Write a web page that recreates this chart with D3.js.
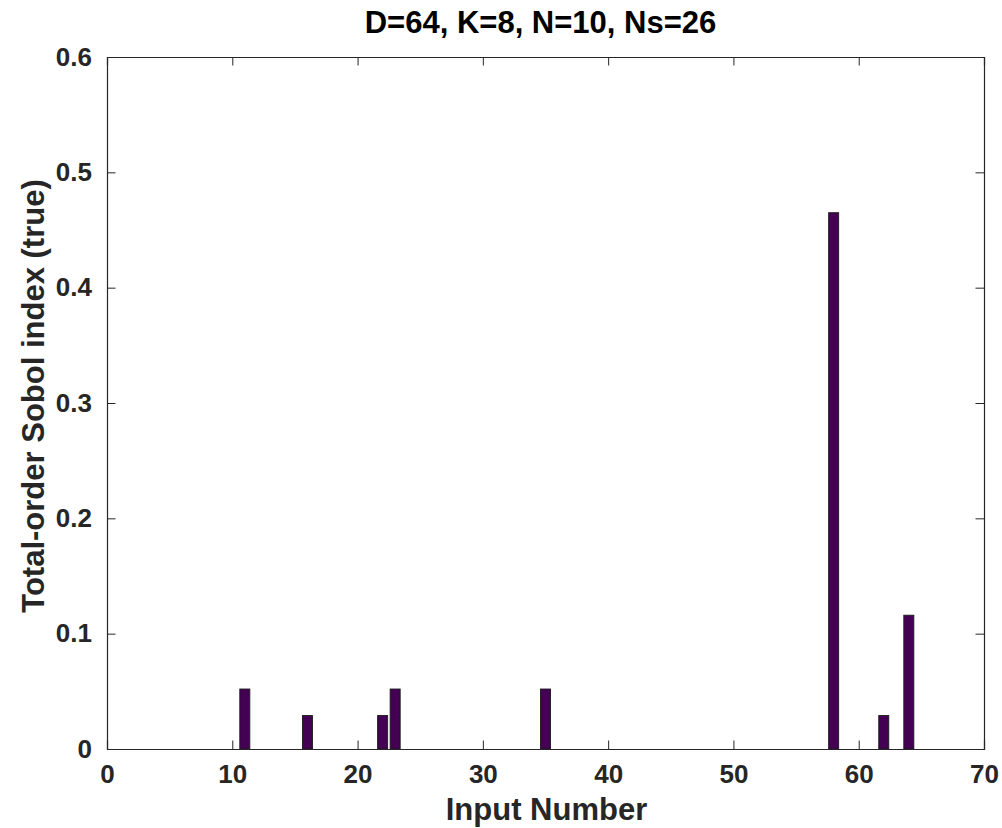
<!DOCTYPE html>
<html>
<head>
<meta charset="utf-8">
<script src="https://cdn.jsdelivr.net/npm/d3@7"></script>
<style>
  html, body { margin: 0; padding: 0; background: #fff; }
  svg { display: block; font-family: "Liberation Sans", Arial, Helvetica, sans-serif; }
</style>
</head>
<body>
<svg id="chart" width="1002" height="828"></svg>
<script>
// Total-order Sobol indices per input (inputs 1..64); non-listed inputs are zero
const inputNumbers = d3.range(1, 65);
const nonzeroInputs = [11, 16, 22, 23, 35, 58, 62, 64];
const nonzeroValues = [0.052, 0.029, 0.029, 0.052, 0.052, 0.465, 0.029, 0.116];
const xTicks = [0, 10, 20, 30, 40, 50, 60, 70];
const yTicks = [0, 0.1, 0.2, 0.3, 0.4, 0.5, 0.6];
const titleText = "D=64, K=8, N=10, Ns=26";
const xLabel = "Input Number";
const yLabel = "Total-order Sobol index (true)";

const values = inputNumbers.map(i => {
  const k = nonzeroInputs.indexOf(i);
  return k >= 0 ? nonzeroValues[k] : 0;
});

const svg = d3.select("#chart");
const W = 1002, H = 828;
const margin = { left: 107, right: W - 984, top: 57, bottom: H - 749 };
const x = d3.scaleLinear().domain([0, 70]).range([margin.left, W - margin.right]);
const y = d3.scaleLinear().domain([0, 0.6]).range([H - margin.bottom, margin.top]);

const axisColor = "#262626";
const tickLen = 8.5;
const barWidth = 0.8;

// Bars (zero-height bars still show their outline along the baseline)
svg.append("g").selectAll("rect")
  .data(inputNumbers)
  .join("rect")
  .attr("x", d => x(d - barWidth / 2))
  .attr("width", d => x(d + barWidth / 2) - x(d - barWidth / 2))
  .attr("y", (d, i) => y(values[i]))
  .attr("height", (d, i) => y(0) - y(values[i]))
  .attr("fill", "#440154")
  .attr("stroke", "#1a1a1a")
  .attr("stroke-width", 0.9);

// Axes with inward ticks on all four sides
const fontTick = 26;
const axBottom = svg.append("g").attr("transform", `translate(0,${y(0)})`)
  .call(d3.axisBottom(x).tickValues(xTicks).tickSize(-tickLen).tickPadding(16).tickFormat(d3.format("d")));
const axTop = svg.append("g").attr("transform", `translate(0,${y(0.6)})`)
  .call(d3.axisTop(x).tickValues(xTicks).tickSize(-tickLen).tickFormat(""));
const axLeft = svg.append("g").attr("transform", `translate(${x(0)},0)`)
  .call(d3.axisLeft(y).tickValues(yTicks).tickSize(-tickLen).tickPadding(15).tickFormat(d => d === 0 ? "0" : d3.format(".1f")(d)));
const axRight = svg.append("g").attr("transform", `translate(${x(70)},0)`)
  .call(d3.axisRight(y).tickValues(yTicks).tickSize(-tickLen).tickFormat(""));

[axBottom, axTop, axLeft, axRight].forEach(g => {
  g.select(".domain").attr("stroke", axisColor).attr("stroke-width", 1.2);
  g.selectAll(".tick line").attr("stroke", axisColor).attr("stroke-width", 1);
  g.selectAll(".tick text")
    .attr("fill", axisColor)
    .attr("font-size", fontTick)
    .attr("font-weight", "bold")
    .attr("font-family", "'Liberation Sans', Arial, sans-serif");
});
// Drop end ticks that would sit on the box corners
axBottom.selectAll(".tick line").filter(d => d === 0 || d === 70).remove();
axTop.selectAll(".tick line").filter(d => d === 0 || d === 70).remove();
axLeft.selectAll(".tick line").filter(d => d === 0 || d === 0.6).remove();
axRight.selectAll(".tick line").filter(d => d === 0 || d === 0.6).remove();

// Title and axis labels
const fontLabel = 31;
svg.append("text")
  .attr("x", (x(0) + x(70)) / 2 - 5)
  .attr("y", 33)
  .attr("text-anchor", "middle")
  .attr("font-size", fontLabel)
  .attr("font-weight", "bold")
  .attr("fill", "#000")
  .text(titleText);

svg.append("text")
  .attr("x", (x(0) + x(70)) / 2 + 1)
  .attr("y", 820)
  .attr("text-anchor", "middle")
  .attr("font-size", fontLabel)
  .attr("font-weight", "bold")
  .attr("fill", axisColor)
  .text(xLabel);

svg.append("text")
  .attr("transform", `translate(44,${(y(0) + y(0.6)) / 2 - 7}) rotate(-90)`)
  .attr("text-anchor", "middle")
  .attr("font-size", fontLabel)
  .attr("font-weight", "bold")
  .attr("fill", axisColor)
  .text(yLabel);
</script>
</body>
</html>
